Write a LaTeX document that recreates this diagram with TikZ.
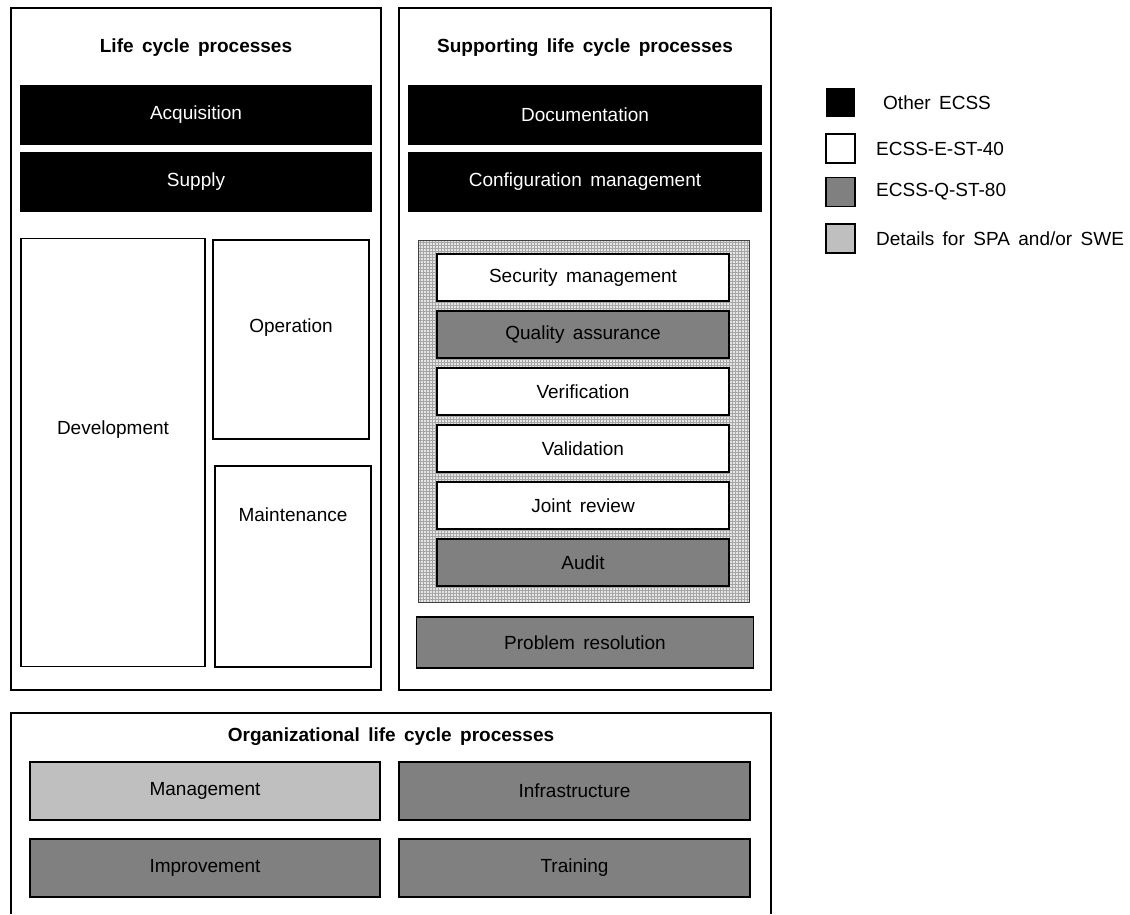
\documentclass[tikz,border=0pt]{standalone}
\usepackage{fontspec}
\setmainfont{Liberation Sans}[WordSpace=1.6]
\usetikzlibrary{positioning, patterns}

\begin{document}
\begin{tikzpicture}[
				x=1pt, y=-1pt,
				every node/.style={font=\fontsize{19}{22}\selectfont, inner sep=0pt},
				group/.style={draw, line width=1.6pt, fill=white},
				title/.style={font=\fontsize{19}{22}\selectfont\bfseries},
				otherbox/.style={fill=black, text=white},
				eastbox/.style={draw, line width=1.6pt, fill=white},
				qualbox/.style={draw, line width=1.6pt, fill=black!50},
				spabox/.style={draw, line width=1.6pt, fill=black!25},
				keybox/.style={minimum width=29pt, minimum height=29pt}]
				
				\useasboundingbox (0,0) rectangle (1130,914);
				
				% life cycle processes
				\node[group, minimum width=370pt, minimum height=682pt] (lcp) at (196,349) {};
				\node[title] (lcptitle) at (196,48) {Life cycle processes};
				\node[otherbox, minimum width=352pt, minimum height=60pt] (acq) at (196,115) {Acquisition};
				\node[otherbox, minimum width=352pt, minimum height=60pt] (supply) at (196,182) {Supply};
				\node[eastbox, minimum width=184pt, minimum height=428pt] (dev) at (113,452.5) {};
				\node[eastbox, minimum width=156pt, minimum height=199pt] (op) at (291,339.5) {};
				\node[eastbox, minimum width=156pt, minimum height=201pt] (maint) at (293,566.5) {};
				\node (devlbl) at (113,430) {Development};
				\node (oplbl) at (291,328) {Operation};
				\node (maintlbl) at (293,515) {Maintenance};
				
				% supporting life cycle processes
				\node[group, minimum width=372pt, minimum height=682pt] (slcp) at (585,349) {};
				\node[title] (slcptitle) at (585,48) {Supporting life cycle processes};
				\node[otherbox, minimum width=354pt, minimum height=60pt] (doc) at (585,115) {Documentation};
				\node[otherbox, minimum width=354pt, minimum height=60pt] (cfg) at (585,182) {Configuration management};
				\node[draw=black!75, line width=0.8pt, preaction={fill=black!10}, pattern=grid, pattern color=black!35,
					minimum width=331pt, minimum height=362pt] (detail) at (583.5,421) {};
				\foreach \name/\style/\txt [count=\i from 0] in {sec/eastbox/Security management, qa/qualbox/Quality assurance,
					verif/eastbox/Verification, valid/eastbox/Validation, review/eastbox/Joint review, audit/qualbox/Audit}
					\node[\style, minimum width=292pt, minimum height=47pt] (\name) at (583,277.5+57*\i) {\txt};
				\node[qualbox, minimum width=337pt, minimum height=51pt] (prob) at (585,642.5) {Problem resolution};
				
				% organizational life cycle processes (cut at the bottom)
				\draw[line width=1.6pt] (11,914) -- (11,713) -- (771,713) -- (771,914);
				\node[title] (orgtitle) at (391,737) {Organizational life cycle processes};
				\node[spabox, minimum width=350pt, minimum height=58pt] (mgmt) at (205,791) {Management};
				\node[qualbox, minimum width=351pt, minimum height=58pt] (infra) at (574.5,791) {Infrastructure};
				\node[qualbox, minimum width=350pt, minimum height=58pt] (impr) at (205,868) {Improvement};
				\node[qualbox, minimum width=351pt, minimum height=58pt] (train) at (574.5,868) {Training};
				
				% legend
				\node[keybox, fill=black] (kother) at (840.5,102.5) {};
				\node[keybox, eastbox] (keast) at (840.5,148.5) {};
				\node[keybox, qualbox] (kqual) at (840.5,192) {};
				\node[keybox, spabox] (kspa) at (840.5,238.5) {};
				\node[anchor=west] (tother) at (883,102.5) {Other ECSS};
				\node[anchor=west] (teast) at (876,148.5) {ECSS-E-ST-40};
				\node[anchor=west] (tqual) at (876,192) {ECSS-Q-ST-80};
				\node[anchor=west] (tspa) at (876,238.5) {Details for SPA and/or SWE};
			\end{tikzpicture}
\end{document}
